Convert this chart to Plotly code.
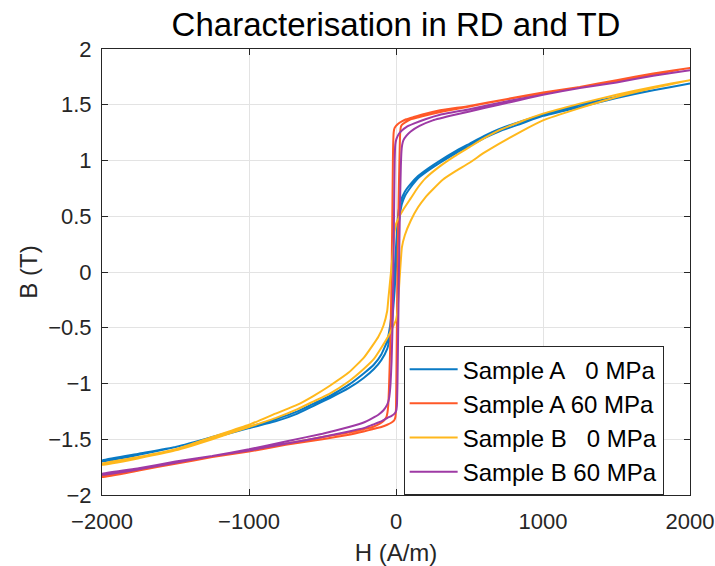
import plotly.graph_objects as go

# ---------------- data ----------------
# Sample A, 0 MPa
H_A0_up = [2000, 1750, 1500, 1250, 1000, 850, 700, 600, 500, 400, 300, 220, 150, 100, 60, 30, 15, 0, -10, -25, -40, -60, -100, -150, -220, -320, -450, -560, -670, -820, -1000, -1250, -1500, -1750, -2000]
B_A0_up = [1.69, 1.63, 1.57, 1.50, 1.41, 1.35, 1.28, 1.22, 1.15, 1.08, 1.00, 0.93, 0.86, 0.79, 0.72, 0.63, 0.52, 0.22, 0.0, -0.30, -0.48, -0.62, -0.74, -0.83, -0.91, -1.01, -1.11, -1.18, -1.25, -1.32, -1.39, -1.48, -1.57, -1.63, -1.69]
H_A0_lo = [-2000, -1750, -1500, -1250, -1000, -820, -670, -560, -450, -320, -220, -150, -100, -60, -40, -25, -10, 0, 10, 25, 40, 60, 100, 150, 220, 300, 400, 500, 600, 700, 850, 1000, 1250, 1500, 1750, 2000]
B_A0_lo = [-1.70, -1.64, -1.57, -1.49, -1.40, -1.34, -1.27, -1.20, -1.13, -1.04, -0.95, -0.87, -0.79, -0.69, -0.57, -0.42, -0.18, 0.05, 0.28, 0.50, 0.61, 0.68, 0.76, 0.84, 0.91, 0.98, 1.06, 1.13, 1.20, 1.26, 1.33, 1.40, 1.48, 1.56, 1.63, 1.69]

# Sample A, 60 MPa
H_A60_up = [2000, 1750, 1500, 1250, 1000, 750, 500, 300, 200, 120, 70, 40, 15, 0, -10, -16, -20, -22, -26, -32, -40, -48, -53, -58, -65, -80, -110, -160, -220, -320, -500, -750, -1000, -1250, -1500, -1750, -2000]
B_A60_up = [1.83, 1.78, 1.72, 1.66, 1.61, 1.55, 1.49, 1.45, 1.42, 1.39, 1.37, 1.35, 1.33, 1.31, 1.29, 1.25, 1.10, 0.90, 0.40, -0.20, -0.70, -1.05, -1.20, -1.26, -1.30, -1.33, -1.36, -1.39, -1.41, -1.44, -1.48, -1.54, -1.60, -1.66, -1.71, -1.77, -1.83]
H_A60_lo = [-2000, -1750, -1500, -1250, -1000, -750, -500, -320, -220, -160, -100, -60, -30, -12, -4, 0, 2, 6, 12, 20, 26, 29, 33, 40, 60, 100, 160, 250, 400, 600, 800, 1000, 1250, 1500, 1750, 2000]
B_A60_lo = [-1.84, -1.78, -1.72, -1.66, -1.61, -1.55, -1.50, -1.46, -1.43, -1.41, -1.39, -1.37, -1.35, -1.33, -1.30, -1.22, -1.00, -0.50, 0.20, 0.80, 1.15, 1.26, 1.30, 1.32, 1.34, 1.37, 1.39, 1.42, 1.46, 1.51, 1.56, 1.60, 1.66, 1.71, 1.77, 1.83]

# Sample B, 0 MPa
H_B0_up = [2000, 1750, 1500, 1250, 1000, 850, 700, 600, 500, 400, 300, 200, 150, 100, 50, 20, 0, -10, -25, -40, -52, -60, -85, -120, -160, -220, -320, -450, -560, -670, -820, -1000, -1250, -1500, -1750, -2000]
B_B0_up = [1.72, 1.66, 1.59, 1.51, 1.42, 1.35, 1.27, 1.20, 1.12, 1.04, 0.95, 0.84, 0.76, 0.66, 0.56, 0.49, 0.43, 0.36, 0.12, -0.08, -0.24, -0.35, -0.48, -0.58, -0.66, -0.77, -0.90, -1.02, -1.11, -1.19, -1.27, -1.37, -1.48, -1.59, -1.66, -1.72]
H_B0_lo = [-2000, -1750, -1500, -1250, -1000, -820, -670, -560, -450, -320, -220, -150, -100, -50, -20, 0, 10, 25, 40, 60, 100, 150, 200, 250, 320, 400, 500, 600, 700, 850, 1000, 1250, 1500, 1750, 2000]
B_B0_lo = [-1.73, -1.67, -1.60, -1.50, -1.39, -1.31, -1.23, -1.16, -1.09, -0.98, -0.87, -0.78, -0.68, -0.57, -0.49, -0.43, -0.35, -0.05, 0.22, 0.33, 0.46, 0.58, 0.67, 0.74, 0.83, 0.90, 0.98, 1.07, 1.15, 1.26, 1.36, 1.47, 1.57, 1.65, 1.72]

# Sample B, 60 MPa
H_B60_up = [2000, 1750, 1500, 1250, 1000, 750, 500, 300, 200, 120, 70, 40, 20, 8, 0, -5, -9, -12, -16, -22, -30, -37, -42, -48, -60, -85, -120, -160, -220, -320, -500, -750, -1000, -1250, -1500, -1750, -2000]
B_B60_up = [1.81, 1.76, 1.70, 1.65, 1.59, 1.53, 1.46, 1.41, 1.37, 1.33, 1.30, 1.27, 1.24, 1.21, 1.18, 1.14, 1.00, 0.70, 0.20, -0.40, -0.80, -1.00, -1.08, -1.14, -1.19, -1.24, -1.28, -1.31, -1.35, -1.39, -1.45, -1.52, -1.59, -1.65, -1.70, -1.76, -1.81]
H_B60_lo = [-2000, -1750, -1500, -1250, -1000, -750, -500, -320, -220, -160, -100, -60, -30, -10, 0, 6, 10, 14, 20, 27, 33, 37, 42, 50, 70, 100, 160, 250, 400, 600, 800, 1000, 1250, 1500, 1750, 2000]
B_B60_lo = [-1.82, -1.77, -1.71, -1.65, -1.60, -1.54, -1.48, -1.43, -1.40, -1.37, -1.34, -1.31, -1.29, -1.27, -1.25, -1.20, -1.00, -0.60, 0.00, 0.60, 0.95, 1.08, 1.14, 1.18, 1.22, 1.26, 1.31, 1.36, 1.41, 1.47, 1.53, 1.59, 1.65, 1.70, 1.76, 1.81]

series_names = ["Sample A\u00a0\u00a0\u00a00 MPa", "Sample A 60 MPa",
                "Sample B\u00a0\u00a0\u00a00 MPa", "Sample B 60 MPa"]
series_colors = ["rgb(10,122,196)", "rgb(255,88,40)", "rgb(255,184,28)", "rgb(158,58,165)"]

x_ticks = [-2000, -1000, 0, 1000, 2000]
y_ticks = [-2, -1.5, -1, -0.5, 0, 0.5, 1, 1.5, 2]

loops = [
    (H_A0_up + H_A0_lo, B_A0_up + B_A0_lo),
    (H_A60_up + H_A60_lo, B_A60_up + B_A60_lo),
    (H_B0_up + H_B0_lo, B_B0_up + B_B0_lo),
    (H_B60_up + H_B60_lo, B_B60_up + B_B60_lo),
]

FONT = "Liberation Sans, Arial, sans-serif"
AX = "#262626"

fig = go.Figure()
for (hx, by), name, col in zip(loops, series_names, series_colors):
    fig.add_trace(go.Scatter(x=hx, y=by, mode="lines", name=name,
                             line=dict(color=col, width=2, shape="spline", smoothing=0.4)))

fig.update_layout(
    width=715, height=566,
    margin=dict(l=102, r=25, t=49, b=71, autoexpand=False),
    paper_bgcolor="white", plot_bgcolor="white",
    font=dict(family=FONT, color=AX, size=22),
    title=dict(text="Characterisation in RD and TD", x=0.5, xref="paper",
               xanchor="center", y=1 - 24 / 566, yref="container", yanchor="middle",
               font=dict(family=FONT, size=33, color="black")),
    showlegend=True,
    legend=dict(x=0.513, y=0.334, xanchor="left", yanchor="top",
                bgcolor="white", bordercolor=AX, borderwidth=1,
                font=dict(family=FONT, size=24, color="black"),
                tracegroupgap=0, itemwidth=48),
)

fig.update_xaxes(range=[-2000, 2000], tickvals=x_ticks, automargin=False,
                 showgrid=True, gridcolor="#e3e3e3", gridwidth=1,
                 zeroline=False, showline=True, linecolor=AX, linewidth=1,
                 mirror="ticks", ticks="inside", ticklen=6, tickcolor=AX,
                 tickfont=dict(size=22, color=AX), ticklabelstandoff=7,
                 title=dict(text="H (A/m)", font=dict(size=24, color=AX), standoff=21))
fig.update_yaxes(range=[-2, 2], tickvals=y_ticks, automargin=False,
                 showgrid=True, gridcolor="#e3e3e3", gridwidth=1,
                 zeroline=False, showline=True, linecolor=AX, linewidth=1,
                 mirror="ticks", ticks="inside", ticklen=6, tickcolor=AX,
                 tickfont=dict(size=22, color=AX), ticklabelstandoff=5,
                 title=dict(text="B (T)", font=dict(size=24, color=AX), standoff=3))

fig.write_html("out.html", config={"displayModeBar": False},
               post_script="document.body.style.margin='0';document.body.style.overflow='hidden';")
